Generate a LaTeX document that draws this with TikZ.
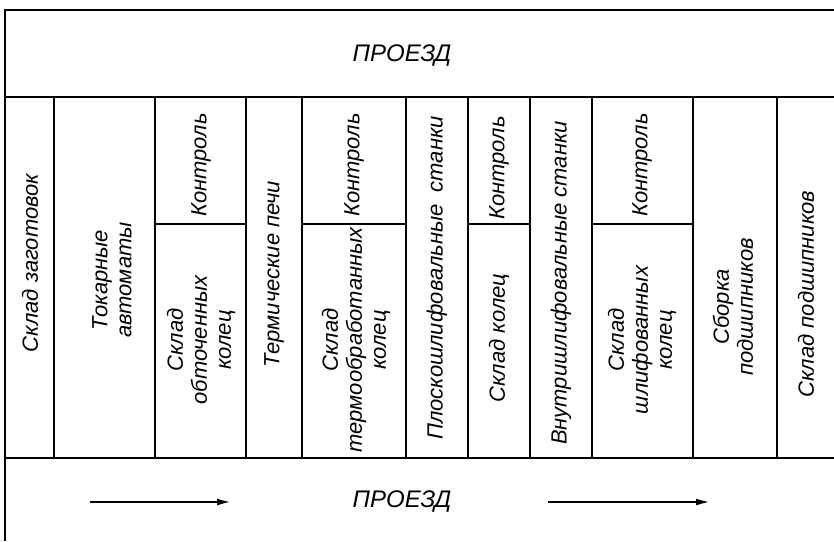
\documentclass[tikz,border=0pt]{standalone}
\usepackage{fontspec}
\setmainfont{Liberation Sans}
\usetikzlibrary{arrows.meta}

\tikzset{
  wall/.style={line width=1.4pt},
  lbl/.style={rotate=90, align=center, inner sep=0pt,
    font=\fontsize{11}{12}\selectfont\itshape},
  road/.style={inner sep=0pt, font=\fontsize{12}{13}\selectfont\itshape},
  flow/.style={line width=1.3pt, -{Latex[length=8pt,width=3.4pt]}}
}

\begin{document}
\begin{tikzpicture}[x=0.5pt,y=-0.5pt]
    \useasboundingbox (0,0) rectangle (834,541);

    % frame and passages
    \coordinate (TL) at (5,10);
    \coordinate (TR) at (834,10);
    \coordinate (BL) at (5,541);
    \draw[wall] (TR) -- (TL) -- (BL);
    \draw[wall] (5,97) -- (834,97);
    \draw[wall] (5,458) -- (834,458);

    % workshop columns
    \foreach \x in {54,155,246,302,406,468,530,592,693,777}
        \draw[wall] (\x,97) -- (\x,458);

    % control cells
    \draw[wall] (155,224) -- (246,224);
    \draw[wall] (302,224) -- (406,224);
    \draw[wall] (468,224) -- (530,224);
    \draw[wall] (592,224) -- (693,224);

    \node[road] (top) at (402,56) {ПРОЕЗД};
    \node[road] (bot) at (402,502) {ПРОЕЗД};

    \node[lbl] (zag) at (30,263) {Склад заготовок};
    \node[lbl] (tok) at (112,280) {Токарные\\автоматы};
    \node[lbl] (k1) at (201,165) {Контроль};
    \node[lbl] (obt) at (201,340) {Склад\\обточенных\\колец};
    \node[lbl] (term) at (274,274) {Термические печи};
    \node[lbl] (k2) at (354,165) {Контроль};
    \node[lbl] (tmo) at (356,340) {Склад\\термообработанных\\колец};
    \node[lbl] (plo) at (437,278) {Плоскошлифовальные\ \ станки};
    \node[lbl] (k3) at (499,168) {Контроль};
    \node[lbl] (kol) at (499,338) {Склад колец};
    \node[lbl] (vnu) at (561,283) {Внутришлифовальные станки};
    \node[lbl] (k4) at (642,165) {Контроль};
    \node[lbl] (shl) at (642,340) {Склад\\шлифованных\\колец};
    \node[lbl] (sbo) at (733,307) {Сборка\\подшипников};
    \node[lbl] (pod) at (806,294) {Склад подшипников};

    % flow direction
    \coordinate (f1s) at (90,502);
    \coordinate (f1e) at (233,502);
    \coordinate (f2s) at (548,502);
    \coordinate (f2e) at (712,502);
    \draw[flow] (f1s) -- (f1e);
    \draw[flow] (f2s) -- (f2e);
\end{tikzpicture}
\end{document}
